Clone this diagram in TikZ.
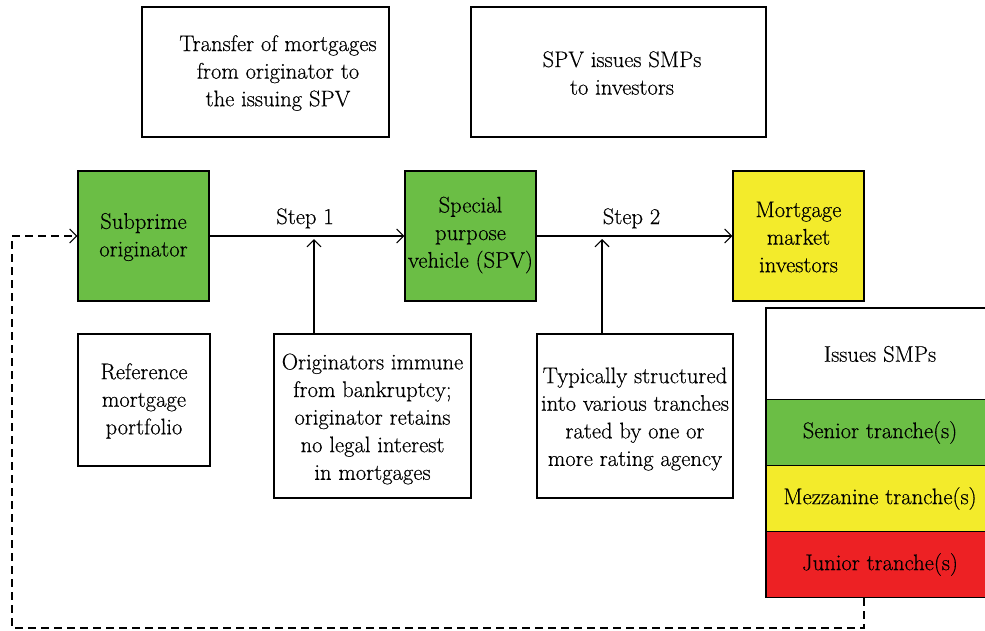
\documentclass[tikz,border=0pt]{standalone}
\usepackage{fontspec}
\setmainfont{Latin Modern Roman}[FakeBold=0.4]
\usetikzlibrary{arrows.meta}
\definecolor{sgreen}{RGB}{107,190,69}
\definecolor{syellow}{RGB}{243,235,43}
\definecolor{sred}{RGB}{237,33,36}
\begin{document}
\begin{tikzpicture}[x=1pt,y=-1pt,line width=1.1pt,
  fnt/.style={font=\fontsize{22.6}{27.6}\selectfont},
  box/.style={draw=black,line width=1.1pt,rectangle,inner sep=0pt,align=center,fnt},
  txt/.style={align=center,inner sep=0pt,fnt},
  arr/.style={-{Straight Barb[length=7pt,width=14pt]}},
  dsh/.style={dash pattern=on 8pt off 5pt}]
\useasboundingbox (0,0) rectangle (985,630);
% top boxes
\node[box,minimum width=247pt,minimum height=130pt] (top1) at (265.5,72) {};
\node[txt] (top1t) at (278,73) {Transfer of mortgages\\from originator to\\the issuing SPV};
\node[box,minimum width=295pt,minimum height=130pt] (top2) at (618.5,72) {};
\node[txt] (top2t) at (622,73) {SPV issues SMPs\\to investors};
% main row
\node[box,fill=sgreen,minimum width=131pt,minimum height=130pt] (orig) at (143.5,236) {};
\node[txt] (origt) at (143.5,237) {Subprime\\originator};
\node[box,fill=sgreen,minimum width=131pt,minimum height=130pt] (spv) at (470.5,236) {};
\node[txt] (spvt) at (470.5,235) {Special\\purpose\\vehicle (SPV)};
\node[box,fill=syellow,minimum width=131pt,minimum height=130pt] (inv) at (798.5,236) {};
\node[txt] (invt) at (798.5,237) {Mortgage\\market\\investors};
% lower boxes
\node[box,minimum width=132pt,minimum height=132pt] (ref) at (144,400) {};
\node[txt] (reft) at (144,401) {Reference\\mortgage\\portfolio};
\node[box,minimum width=197pt,minimum height=164pt] (imm) at (372.5,416) {};
\node[txt] (immt) at (372.5,419) {Originators immune\\from bankruptcy;\\originator retains\\no legal interest\\in mortgages};
\node[box,minimum width=196pt,minimum height=164pt] (typ) at (635,416) {};
\node[txt] (typt) at (635,419) {Typically structured\\into various tranches\\rated by one or\\more rating agency};
% stack
\node[box,minimum width=228pt,minimum height=92pt] (iss) at (880,354) {Issues SMPs};
\node[box,fill=sgreen,minimum width=228pt,minimum height=66pt] (sen) at (880,432.5) {Senior tranche(s)};
\node[box,fill=syellow,minimum width=228pt,minimum height=66pt] (mez) at (880,498.5) {Mezzanine tranche(s)};
\node[box,fill=sred,minimum width=228pt,minimum height=66pt] (jun) at (880,564.5) {Junior tranche(s)};
% arrows
\draw[arr] (orig.east) -- node[txt,above=7pt,xshift=-2pt] (s1l) {Step 1} (spv.west);
\draw[arr] (spv.east) -- node[txt,above=7pt,xshift=-3pt] (s2l) {Step 2} (inv.west);
\coordinate (c1) at (314,239);
\coordinate (c2) at (602,239);
\draw[arr] (imm.north -| c1) -- (c1);
\draw[arr] (typ.north -| c2) -- (c2);
% dashed feedback
\coordinate (d1) at (864,628);
\coordinate (d2) at (12,628);
\draw[dsh,arr] (jun.south -| d1) -- (d1) -- (d2) -- (d2 |- orig.west) -- (orig.west);
\end{tikzpicture}
\end{document}
